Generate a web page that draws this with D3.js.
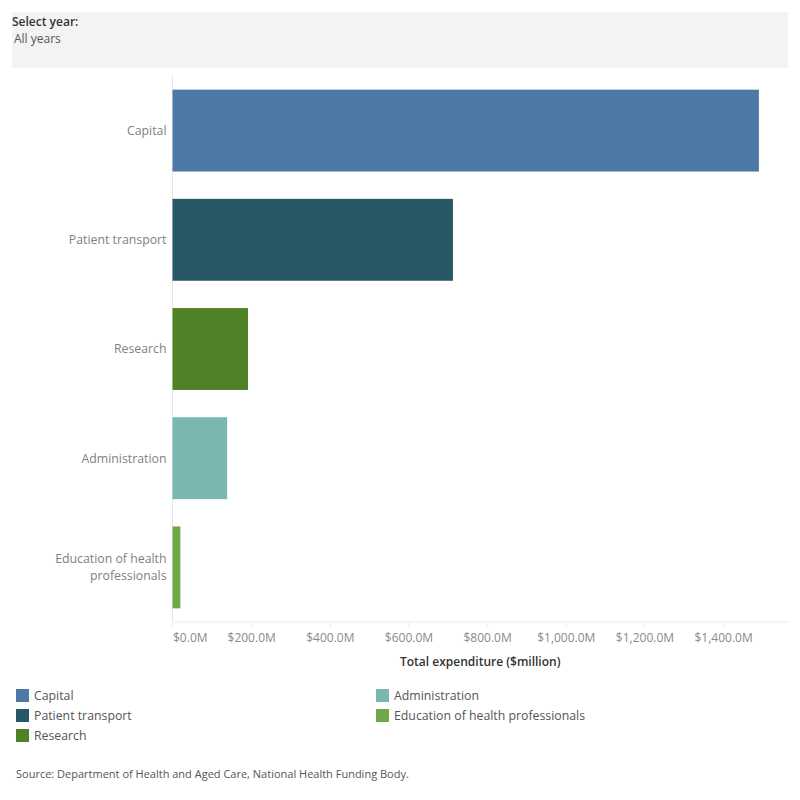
<!DOCTYPE html>
<html>
<head>
<meta charset="utf-8">
<script src="https://cdn.jsdelivr.net/npm/d3@7"></script>
<style>
  body { margin: 0; background: #fff; font-family: "Open Sans", sans-serif; }
  text { font-family: "Open Sans", sans-serif; }
</style>
</head>
<body>
<svg id="chart" width="800" height="800"></svg>
<script>
// data ($ million, all years)
const categories = ["Capital", "Patient transport", "Research", "Administration", "Education of health professionals"];
const values = [1491, 713, 192, 139, 20];
const colors = ["#4e79a7", "#285866", "#4f8127", "#7ab7b1", "#6fa947"];
const tickValues = [0, 200, 400, 600, 800, 1000, 1200, 1400];
const legendCol1 = ["Capital", "Patient transport", "Research"];
const legendCol2 = ["Administration", "Education of health professionals"];

const svg = d3.select("#chart");

// filter box at top
svg.append("rect")
  .attr("x", 12).attr("y", 12).attr("width", 776).attr("height", 56)
  .attr("fill", "#f3f3f3");
svg.append("text")
  .attr("x", 12).attr("y", 26)
  .attr("font-size", 12).attr("font-weight", 600).attr("fill", "#333")
  .text("Select year:");
svg.append("text")
  .attr("x", 14).attr("y", 43)
  .attr("font-size", 12).attr("fill", "#555")
  .text("All years");

const plotLeft = 172.5, plotRight = 788, plotTop = 76, plotBottom = 622;

const x = d3.scaleLinear().domain([0, 1565]).range([plotLeft, plotRight]);
const y = d3.scaleBand().domain(categories).range([plotTop, plotBottom])
  .paddingInner(0.25).paddingOuter(0.125);
const color = d3.scaleOrdinal().domain(categories).range(colors);

// axis lines
svg.append("line")
  .attr("x1", plotLeft).attr("x2", plotLeft).attr("y1", plotTop).attr("y2", plotBottom)
  .attr("stroke", "#e6e6e6");
svg.append("line")
  .attr("x1", plotLeft).attr("x2", plotRight).attr("y1", plotBottom).attr("y2", plotBottom)
  .attr("stroke", "#ececec");

// bars
svg.selectAll("rect.bar")
  .data(categories)
  .enter()
  .append("rect")
  .attr("class", "bar")
  .attr("x", x(0))
  .attr("y", d => y(d))
  .attr("width", (d, i) => x(values[i]) - x(0))
  .attr("height", y.bandwidth())
  .attr("fill", d => color(d));

// category labels
const catLabels = svg.selectAll("text.cat")
  .data(categories)
  .enter()
  .append("text")
  .attr("class", "cat")
  .attr("x", plotLeft - 6)
  .attr("y", d => y(d) + y.bandwidth() / 2)
  .attr("text-anchor", "end")
  .attr("font-size", 12.3)
  .attr("fill", "#7f7f7f");
catLabels.each(function(d) {
  const t = d3.select(this);
  const lines = d === "Education of health professionals" ? ["Education of health", "professionals"] : [d];
  lines.forEach((ln, i) => {
    t.append("tspan")
      .attr("x", plotLeft - 6)
      .attr("dy", i === 0 ? (lines.length === 1 ? "0.35em" : (0.35 - 0.67) + "em") : "1.34em")
      .text(ln);
  });
});

// x axis
const xAxis = d3.axisBottom(x).tickValues(tickValues).tickSize(5).tickPadding(6)
  .tickFormat(d => "$" + d3.format(",.1f")(d) + "M");
const gx = svg.append("g")
  .attr("transform", `translate(0,${plotBottom})`)
  .call(xAxis);
gx.select(".domain").remove();
gx.selectAll(".tick line").attr("stroke", "#ececec");
gx.selectAll(".tick text")
  .attr("font-size", 12)
  .attr("fill", "#8a8a8a")
  .attr("font-family", "Open Sans, sans-serif")
  .attr("text-anchor", d => d === 0 ? "start" : "middle");

svg.append("text")
  .attr("x", (plotLeft + plotRight) / 2).attr("y", 666)
  .attr("text-anchor", "middle")
  .attr("font-size", 12).attr("font-weight", 600).attr("fill", "#333")
  .text("Total expenditure ($million)");

// legend
function legend(items, lx) {
  const g = svg.append("g");
  items.forEach((name, i) => {
    const ly = 689 + i * 20;
    g.append("rect")
      .attr("x", lx).attr("y", ly).attr("width", 13).attr("height", 13)
      .attr("fill", color(name));
    g.append("text")
      .attr("x", lx + 18).attr("y", ly + 11)
      .attr("font-size", 12.3).attr("fill", "#555")
      .text(name);
  });
}
legend(legendCol1, 16);
legend(legendCol2, 376);

svg.append("text")
  .attr("x", 16).attr("y", 778)
  .attr("font-size", 11).attr("fill", "#555")
  .text("Source: Department of Health and Aged Care, National Health Funding Body.");
</script>
</body>
</html>
